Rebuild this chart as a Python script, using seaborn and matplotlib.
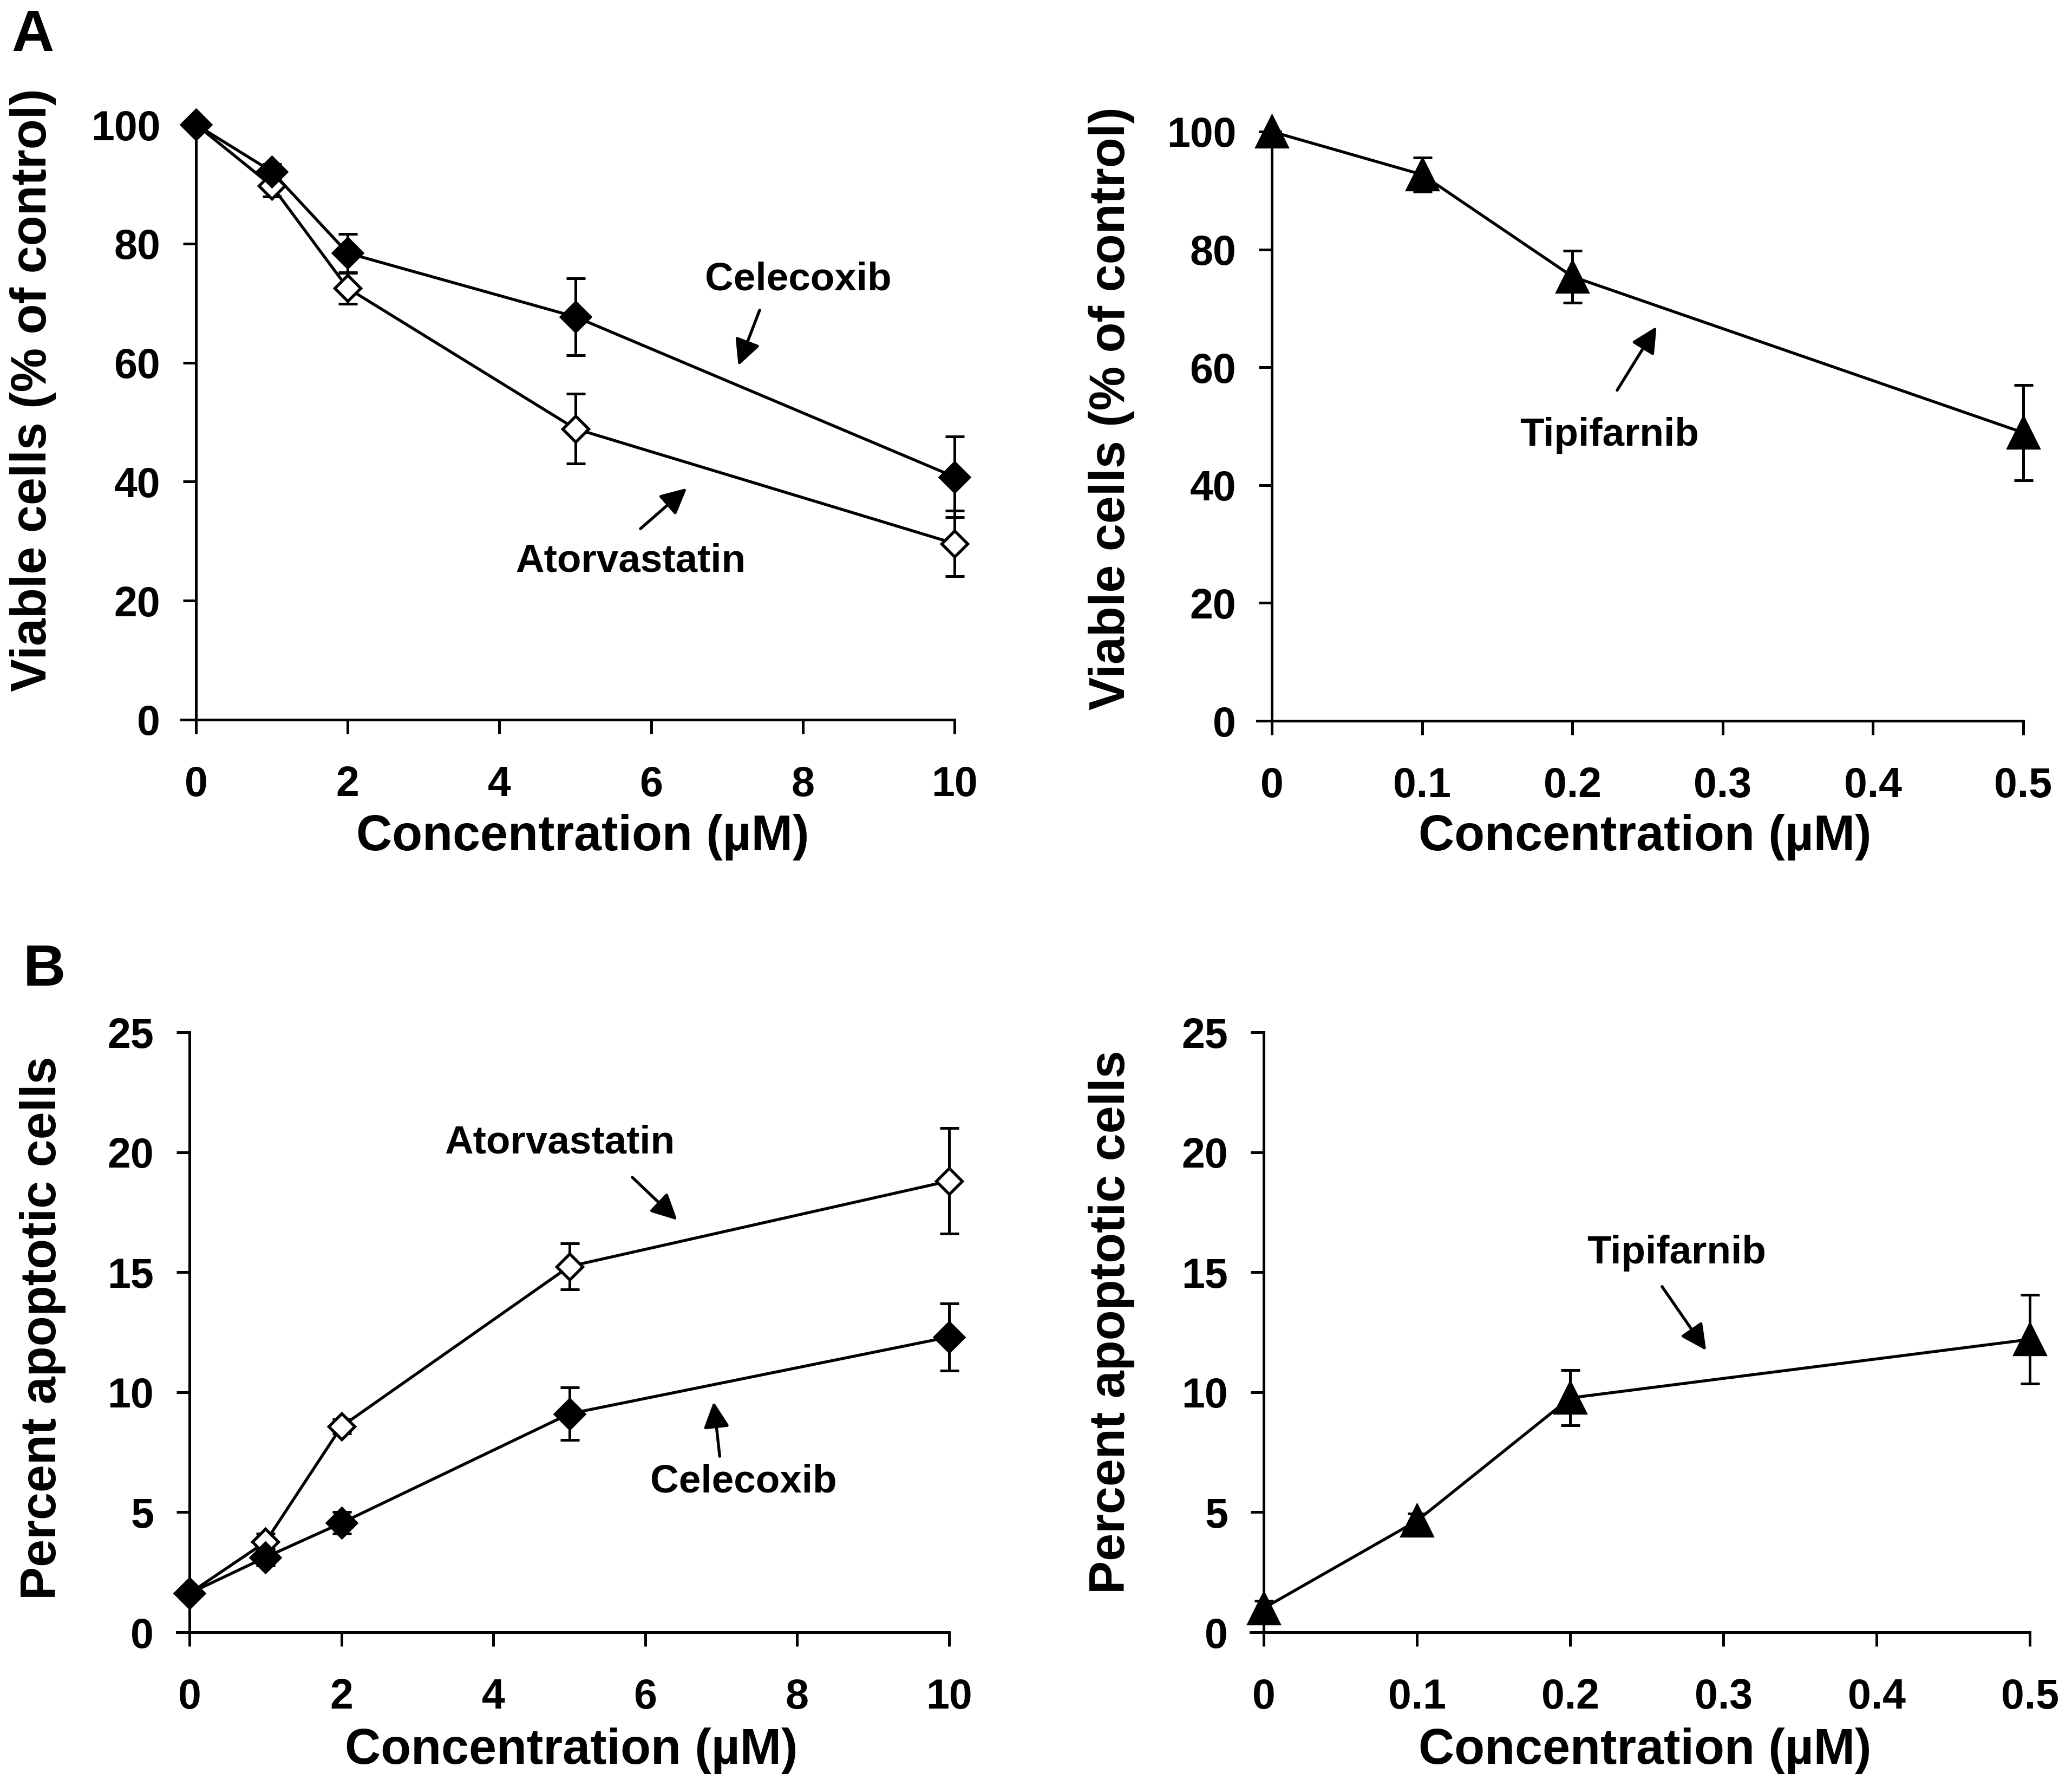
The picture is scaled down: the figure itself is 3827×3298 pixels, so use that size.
import matplotlib
matplotlib.use("Agg")
import matplotlib.pyplot as plt
import seaborn as sns

# data
conc_uM = [0, 1, 2, 5, 10]
conc_tip = [0, 0.1, 0.2, 0.5]

viab_celecoxib = [100, 92.1, 78.4, 67.7, 40.8]
viab_celecoxib_err = [0, 1.3, 3.2, 6.5, 6.8]
viab_atorva = [100, 89.7, 72.5, 48.9, 29.6]
viab_atorva_err = [0, 1.8, 2.6, 5.9, 5.5]
viab_tip = [100, 92.7, 75.4, 48.9]
viab_tip_err = [0, 2.9, 4.4, 8.1]

apop_celecoxib = [1.62, 3.12, 4.55, 9.1, 12.3]
apop_celecoxib_err = [0.2, 0.35, 0.45, 1.1, 1.4]
apop_atorva = [1.62, 3.76, 8.57, 15.24, 18.8]
apop_atorva_err = [0.2, 0.35, 0.3, 0.95, 2.2]
apop_tip = [1.0, 4.64, 9.76, 12.2]
apop_tip_err = [0.3, 0.3, 1.15, 1.85]

xticks_uM = [0, 2, 4, 6, 8, 10]
xticks_tip = [0, 0.1, 0.2, 0.3, 0.4, 0.5]
xticklabels_tip = ["0", "0.1", "0.2", "0.3", "0.4", "0.5"]

sns.set_style("ticks")
plt.rcParams["font.family"] = ["Liberation Sans", "DejaVu Sans"]
plt.rcParams["font.weight"] = "bold"
for k in ["text.color", "axes.labelcolor", "xtick.color", "ytick.color",
          "axes.edgecolor"]:
    plt.rcParams[k] = "black"

fig = plt.figure(figsize=(3827 / 300, 3298 / 300), dpi=300)

LW = 1.2


def series(ax, x, y, err, marker, ms, face):
    eb = ax.errorbar(x, y, yerr=err, fmt="none", ecolor="black",
                     elinewidth=LW, capsize=4.2, capthick=LW)
    for art in eb.get_children():
        art.set_clip_on(False)
    sns.lineplot(x=x, y=y, ax=ax, color="black", linewidth=1.3,
                 marker=marker, markersize=ms, markerfacecolor=face,
                 markeredgecolor="black", markeredgewidth=1.3,
                 errorbar=None, clip_on=False)


def style(ax, xlim, ylim, xticks, xticklabels, yticks, ylabel, lab_coords):
    ax.set_xlim(*xlim)
    ax.set_ylim(*ylim)
    ax.set_xticks(xticks)
    ax.set_xticklabels(xticklabels)
    ax.set_yticks(yticks)
    ax.spines["left"].set_position(("data", 0))
    for s in ["top", "right"]:
        ax.spines[s].set_visible(False)
    for s in ["left", "bottom"]:
        ax.spines[s].set_linewidth(LW)
    ax.tick_params(axis="x", direction="out", length=6.2, width=LW,
                   pad=14, labelsize=18.5)
    ax.tick_params(axis="y", direction="out", length=5.8, width=LW,
                   pad=10, labelsize=18.5)
    for t in ax.get_xticklabels() + ax.get_yticklabels():
        t.set_fontweight("bold")
    ax.set_ylabel(ylabel, fontsize=22, fontweight="bold", va="center")
    ax.set_xlabel("Concentration (µM)", fontsize=22, fontweight="bold",
                  va="center")
    ax.yaxis.set_label_coords(*lab_coords[0])
    ax.xaxis.set_label_coords(*lab_coords[1])


def note(ax, text, txy, tail, head):
    ax.text(txy[0], txy[1], text, ha="center", va="center",
            fontsize=17.5, fontweight="bold")
    ax.annotate("", xy=head, xytext=tail,
                arrowprops=dict(arrowstyle="-|>", color="black", lw=1.3,
                                mutation_scale=24, shrinkA=0, shrinkB=0))


# A left
ax1 = fig.add_axes([0.08754, 0.59703, 0.37314, 0.33323])
series(ax1, conc_uM, viab_atorva, viab_atorva_err, "D", 8, "white")
series(ax1, conc_uM, viab_celecoxib, viab_celecoxib_err, "D", 9, "black")
style(ax1, (-0.193, 10), (0, 100), xticks_uM, [str(v) for v in xticks_uM],
      [0, 20, 40, 60, 80, 100], "Viable cells (% of control)",
      [(-0.192, 0.554), (0.519, -0.1975)])
note(ax1, "Celecoxib", (7.94, 73.9), (7.43, 68.8), (7.15, 59.5))
note(ax1, "Atorvastatin", (5.73, 26.6), (5.86, 32.1), (6.47, 38.9))

# A right
ax2 = fig.add_axes([0.60674, 0.59642, 0.36974, 0.3299])
series(ax2, conc_tip, viab_tip, viab_tip_err, "^", 13.5, "black")
style(ax2, (-0.0097, 0.5), (0, 100), xticks_tip, xticklabels_tip,
      [0, 20, 40, 60, 80, 100], "Viable cells (% of control)",
      [(-0.190, 0.530), (0.506, -0.1976)])
note(ax2, "Tipifarnib", (0.2245, 48.4), (0.2298, 56.1), (0.256, 66.9))

# B left
ax3 = fig.add_axes([0.08545, 0.08611, 0.37262, 0.33596])
series(ax3, conc_uM, apop_atorva, apop_atorva_err, "D", 8, "white")
series(ax3, conc_uM, apop_celecoxib, apop_celecoxib_err, "D", 9, "black")
style(ax3, (-0.164, 10), (0, 25), xticks_uM, [str(v) for v in xticks_uM],
      [0, 5, 10, 15, 20, 25], "Percent apoptotic cells",
      [(-0.174, 0.507), (0.5105, -0.1977)])
note(ax3, "Atorvastatin", (4.87, 20.38), (5.83, 18.95), (6.42, 17.17))
note(ax3, "Celecoxib", (7.29, 6.26), (6.98, 7.33), (6.9, 9.6))

# B right
ax4 = fig.add_axes([0.60361, 0.08611, 0.37601, 0.33596])
series(ax4, conc_tip, apop_tip, apop_tip_err, "^", 13.5, "black")
style(ax4, (-0.0085, 0.5), (0, 25), xticks_tip, xticklabels_tip,
      [0, 5, 10, 15, 20, 25], "Percent apoptotic cells",
      [(-0.1786, 0.517), (0.506, -0.1977)])
note(ax4, "Tipifarnib", (0.2694, 15.79), (0.26, 14.4), (0.2888, 11.74))

fig.text(0.0159, 0.98, "A", fontsize=26, fontweight="bold",
         ha="center", va="center")
fig.text(0.0214, 0.4566, "B", fontsize=26, fontweight="bold",
         ha="center", va="center")

fig.savefig("out.png", dpi=300)
